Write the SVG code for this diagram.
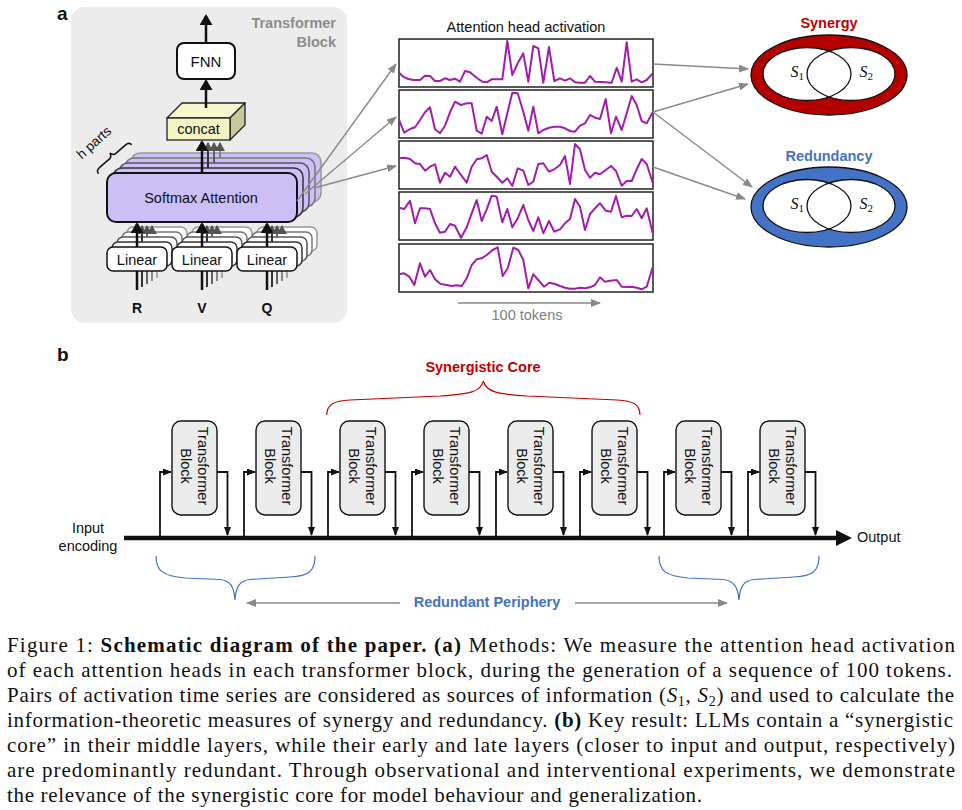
<svg xmlns="http://www.w3.org/2000/svg" width="962" height="810" viewBox="0 0 962 810">
<defs>
<style>
.sans{font-family:"Liberation Sans",Arial,sans-serif}
.serif{font-family:"Liberation Serif","Times New Roman",serif}
.lbl{font-size:14.5px;fill:#111}
.thick{stroke:#111;stroke-width:2.5;fill:none}
.gl{stroke:#8a8a8a;stroke-width:1.4;fill:none}
.plot{fill:#fff;stroke:#222;stroke-width:1.5}
.sig{fill:none;stroke:#a21caf;stroke-width:2;stroke-linejoin:round}
.tb{fill:#ececec;stroke:#111;stroke-width:1.4}
.conn{fill:none;stroke:#111;stroke-width:1.8;stroke-linejoin:miter}
.cap{font-size:21px;fill:#111}
.lin{fill:#fff;stroke-width:1.5}
.sm{fill:#cbbff6;stroke-width:1.5}
.venn{fill:none;stroke:#111;stroke-width:1.3}
</style>
<marker id="ahb" viewBox="0 0 11 13" refX="9" refY="6.5" markerWidth="11" markerHeight="13" markerUnits="userSpaceOnUse" orient="auto"><path d="M0,0 L11,6.5 L0,13 z" fill="#111"/></marker>
<marker id="ahk" viewBox="0 0 9 10" refX="8" refY="5" markerWidth="9" markerHeight="10" markerUnits="userSpaceOnUse" orient="auto"><path d="M0,0 L9,5 L0,10 z" fill="#555"/></marker>
<marker id="ahg" viewBox="0 0 10 8" refX="9" refY="4" markerWidth="10" markerHeight="8" markerUnits="userSpaceOnUse" orient="auto"><path d="M0,0 L10,4 L0,8 z" fill="#888"/></marker>
<marker id="ahs" viewBox="0 0 9 7" refX="8" refY="3.5" markerWidth="9" markerHeight="7" markerUnits="userSpaceOnUse" orient="auto"><path d="M0,0 L9,3.5 L0,7 z" fill="#111"/></marker>
</defs>
<rect width="962" height="810" fill="#fff"/>

<!-- Panel a -->
<text x="57" y="20" class="sans" font-size="19" font-weight="bold" fill="#111">a</text>

<g id="transformer-block">
<rect x="71" y="7" width="276" height="316" rx="14" fill="#ececec"/>
<text class="sans" font-size="14.5" font-weight="bold" fill="#8c8c8c" text-anchor="end"><tspan x="336" y="28">Transformer</tspan><tspan x="336" y="46.5">Block</tspan></text>

<!-- softmax stack -->
<g id="softmax-attention">
<rect class="sm" x="131" y="153" width="190" height="49" rx="9" stroke="#999"/>
<rect class="sm" x="125" y="158" width="190" height="49" rx="9" stroke="#777"/>
<rect class="sm" x="119" y="163" width="190" height="49" rx="9" stroke="#555"/>
<rect class="sm" x="113" y="168" width="190" height="49" rx="9" stroke="#333"/>
<rect x="107" y="173" width="190" height="49" rx="9" fill="#cbbff6" stroke="#111" stroke-width="2"/>
<text x="201" y="203" text-anchor="middle" class="sans lbl">Softmax Attention</text>
</g>

<!-- linear stacks -->
<g id="linear-stacks">
<g stroke="#999">
<rect class="lin" x="127" y="227" width="60" height="24" rx="6"/><line x1="157" y1="251" x2="157" y2="278" stroke-width="1.6"/>
<rect class="lin" x="192" y="227" width="60" height="24" rx="6"/><line x1="222" y1="251" x2="222" y2="278" stroke-width="1.6"/>
<rect class="lin" x="257" y="227" width="60" height="24" rx="6"/><line x1="287" y1="251" x2="287" y2="278" stroke-width="1.6"/>
</g>
<g stroke="#777">
<rect class="lin" x="122" y="232" width="60" height="24" rx="6"/><line x1="152" y1="256" x2="152" y2="281" stroke-width="1.7"/>
<rect class="lin" x="187" y="232" width="60" height="24" rx="6"/><line x1="217" y1="256" x2="217" y2="281" stroke-width="1.7"/>
<rect class="lin" x="252" y="232" width="60" height="24" rx="6"/><line x1="282" y1="256" x2="282" y2="281" stroke-width="1.7"/>
</g>
<g stroke="#555">
<rect class="lin" x="117" y="237" width="60" height="24" rx="6"/><line x1="147" y1="261" x2="147" y2="284" stroke-width="1.8"/>
<rect class="lin" x="182" y="237" width="60" height="24" rx="6"/><line x1="212" y1="261" x2="212" y2="284" stroke-width="1.8"/>
<rect class="lin" x="247" y="237" width="60" height="24" rx="6"/><line x1="277" y1="261" x2="277" y2="284" stroke-width="1.8"/>
</g>
<g stroke="#333">
<rect class="lin" x="112" y="242" width="60" height="24" rx="6"/><line x1="142" y1="266" x2="142" y2="287" stroke-width="2"/>
<rect class="lin" x="177" y="242" width="60" height="24" rx="6"/><line x1="207" y1="266" x2="207" y2="287" stroke-width="2"/>
<rect class="lin" x="242" y="242" width="60" height="24" rx="6"/><line x1="272" y1="266" x2="272" y2="287" stroke-width="2"/>
</g>
<g stroke="#111">
<line x1="137" y1="270" x2="137" y2="290" stroke-width="2.5"/>
<line x1="202" y1="270" x2="202" y2="290" stroke-width="2.5"/>
<line x1="267" y1="270" x2="267" y2="290" stroke-width="2.5"/>
<rect class="lin" x="107" y="247" width="60" height="24" rx="6" stroke-width="1.8"/>
<rect class="lin" x="172" y="247" width="60" height="24" rx="6" stroke-width="1.8"/>
<rect class="lin" x="237" y="247" width="60" height="24" rx="6" stroke-width="1.8"/>
</g>
<text x="137" y="265" text-anchor="middle" class="sans lbl">Linear</text>
<text x="202" y="265" text-anchor="middle" class="sans lbl">Linear</text>
<text x="267" y="265" text-anchor="middle" class="sans lbl">Linear</text>
<text class="sans" font-size="14" font-weight="bold" fill="#111" text-anchor="middle"><tspan x="137" y="313">R</tspan><tspan x="202" y="313">V</tspan><tspan x="267" y="313">Q</tspan></text>
</g>

<!-- internal arrows: linear -> softmax -->
<g fill="none">
<line x1="152" y1="232" x2="152" y2="226" stroke="#777" stroke-width="1.6" marker-end="url(#ahk)"/>
<line x1="147" y1="237" x2="147" y2="226" stroke="#555" stroke-width="1.8" marker-end="url(#ahk)"/>
<line x1="142" y1="242" x2="142" y2="226" stroke="#333" stroke-width="2" marker-end="url(#ahk)"/>
<line x1="217" y1="232" x2="217" y2="226" stroke="#777" stroke-width="1.6" marker-end="url(#ahk)"/>
<line x1="212" y1="237" x2="212" y2="226" stroke="#555" stroke-width="1.8" marker-end="url(#ahk)"/>
<line x1="207" y1="242" x2="207" y2="226" stroke="#333" stroke-width="2" marker-end="url(#ahk)"/>
<line x1="282" y1="232" x2="282" y2="226" stroke="#777" stroke-width="1.6" marker-end="url(#ahk)"/>
<line x1="277" y1="237" x2="277" y2="226" stroke="#555" stroke-width="1.8" marker-end="url(#ahk)"/>
<line x1="272" y1="242" x2="272" y2="226" stroke="#333" stroke-width="2" marker-end="url(#ahk)"/>
<line class="thick" x1="137" y1="247" x2="137" y2="224" marker-end="url(#ahb)"/>
<line class="thick" x1="202" y1="247" x2="202" y2="224" marker-end="url(#ahb)"/>
<line class="thick" x1="267" y1="247" x2="267" y2="224" marker-end="url(#ahb)"/>
<!-- softmax -> concat -->
<line x1="220" y1="158" x2="220" y2="143" stroke="#777" stroke-width="1.6" marker-end="url(#ahk)"/>
<line x1="214" y1="163" x2="214" y2="143" stroke="#555" stroke-width="1.8" marker-end="url(#ahk)"/>
<line x1="208" y1="168" x2="208" y2="143" stroke="#333" stroke-width="2" marker-end="url(#ahk)"/>
<line class="thick" x1="202" y1="173" x2="202" y2="142" marker-end="url(#ahb)"/>
</g>

<!-- concat -->
<g id="concat">
<polygon points="167,118 182,103 245,103 230,118" fill="#f7f7cf" stroke="#222" stroke-width="1.3" stroke-linejoin="round"/>
<polygon points="230,118 245,103 245,125 230,140" fill="#c8c89a" stroke="#222" stroke-width="1.3" stroke-linejoin="round"/>
<rect x="167" y="118" width="63" height="22" fill="#f4f4c2" stroke="#222" stroke-width="1.3"/>
<text x="198.5" y="134" text-anchor="middle" class="sans lbl">concat</text>
</g>

<!-- FNN -->
<g id="fnn">
<rect x="177" y="43" width="58" height="36" rx="7" fill="#fff" stroke="#111" stroke-width="2"/>
<text x="206" y="66.5" text-anchor="middle" class="sans" font-size="15" fill="#111">FNN</text>
</g>
<line class="thick" x1="206" y1="108" x2="206" y2="81" marker-end="url(#ahb)"/>
<line class="thick" x1="206" y1="43" x2="206" y2="16" marker-end="url(#ahb)"/>

<!-- h parts -->
<g id="h-parts">
<text transform="translate(97,146) rotate(-42)" text-anchor="middle" class="sans" font-size="13.5" fill="#111">h parts</text>
<path transform="translate(114.5,158.5) rotate(-41)" d="M-22,1 Q-22,-3 -17,-3 L-4,-3 Q-1,-3 0,-7 Q1,-3 4,-3 L17,-3 Q22,-3 22,1" fill="none" stroke="#111" stroke-width="1.5"/>
</g>
</g>

<!-- attention plots -->
<g id="attention-plots">
<text x="526" y="32" text-anchor="middle" class="sans lbl">Attention head activation</text>
<g id="plot1"><rect class="plot" x="399" y="39" width="254" height="48"/>
<polyline class="sig" points="399,72.7 403.3,76.7 408.3,79 413.3,80 420,80 425,75.7 430,76 435,81 440,81 445,78.3 450,80 455,78.7 460,81.7 465,71 470,72.3 476.7,77.7 482.3,81.7 486.7,82.3 491.7,79.3 496.7,79.3 502.3,79.3 507.3,41 512.3,75 517.7,63.3 523.3,53.3 528.3,81.7 533.3,46 538.3,48.3 543.3,82.7 549,47 554.3,81 560,78.3 565,80.7 570,78.3 575,82.3 580,82.7 585,82.7 590,76 595,81.7 601.7,82 611.7,82.7 616.7,67.7 621.7,81.7 626.7,42.3 631.7,81.7 636.7,79.3 641.7,82.3 646.7,80 652.7,73.3"/></g>
<g id="plot2"><rect class="plot" x="399" y="90" width="254" height="48"/>
<polyline class="sig" points="399,120 404.3,132.7 410,129 415,127.3 420,120 425,112.3 430,107.3 435,129.3 440,133.3 445,125.7 450,112.3 455,101.7 461,105 466.7,103.3 471.7,103.3 476.7,130.7 481.7,133.7 486.7,116.7 491.7,121 496.7,106.7 502.3,134.3 507.3,113.3 512.3,92.7 517.7,93.3 523.3,111.7 528.3,130.7 533.3,106.7 538.3,133.3 543.3,130 549,127.7 554.3,126.7 560,126.7 565,128.3 570,131 575,131.7 580,125.7 585,123.3 590,115 595,117.7 600,119 605.7,99 611,133.3 616,116.7 621.7,130 626.7,113.3 631.7,96 636.7,105 641.7,121 646.7,123.3 652.7,112.3"/></g>
<g id="plot3"><rect class="plot" x="399" y="141" width="254" height="48"/>
<polyline class="sig" points="399,158.3 404.3,157.7 410,159 415,163.3 420,164 425,170.7 430,166.7 435,164.3 440,182.7 445,172.7 450,176.7 455,166.7 461,175 466.7,182.7 471.7,166.7 476.7,159.3 481.7,158.3 486.7,155 491.7,171.7 496.7,176.7 502.3,182.7 507.3,178.3 512.3,186 517.7,168.3 523.3,170.7 528.3,185 533.3,181.7 538.3,164 543.3,163.3 549,171.7 554.3,169.3 560,165 565,156 570,184 575,144 580,149.3 585,170 590,177.7 595,172.7 600,174.3 605.7,170 611,166 616,171 621.7,185.7 626.7,181 631.7,181 636.7,169.3 641.7,159 646.7,164 652.7,182.7"/></g>
<g id="plot4"><rect class="plot" x="399" y="192" width="254" height="48"/>
<polyline class="sig" points="399,207.7 404.3,209 410,200.7 415,223.3 420,208.3 425,208.3 430,209 435,223.3 440,232.7 445,231.7 450,224 455,225.7 461,237.7 466.7,227.3 471.7,213.3 476.7,200 481.7,221 486.7,209.3 491.7,195.7 496.7,196.7 502.3,222.3 507.3,209 512.3,227.3 517.7,218.3 523.3,205 528.3,220 533.3,231 538.3,217.3 543.3,233.3 549,221 554.3,231.7 560,229.3 565,223.3 570,219 575,199 580,206.7 585,230 590,214 595,208.3 600,203.3 605.7,210.7 611,211.7 616,196 621.7,217.3 626.7,215.7 631.7,216 636.7,209 641.7,218.3 646.7,208.3 652.7,233.3"/></g>
<g id="plot5"><rect class="plot" x="399" y="244" width="254" height="48"/>
<polyline class="sig" points="399,274.3 404,273.3 409.3,276.7 414.3,285 420,263.3 425,276.7 430,270 435,279.3 440.7,284 446.7,285 451.7,286 456.7,285.3 461.7,286 466.7,278.3 471.7,265 476.7,259.3 481.7,258.3 486.7,255 492.7,250 497.7,247.3 502.7,276 507.7,268.3 513.3,247.7 518.3,250 523.3,260 528.3,288.3 533.3,274.3 538.3,280 544,286.7 549.3,282.7 555,284 560,286 565,287.7 570,288.7 575,288.7 580,287.7 585,288.3 590,287.3 595,285 600,277.3 605,281.7 610,280.7 616.7,280 621.7,286.7 626.7,287 631.7,286.7 636.7,287.7 641.7,289.3 646.7,286.7 652.7,267.3"/></g>
<line class="gl" x1="458" y1="303" x2="600" y2="303" marker-end="url(#ahg)"/>
<text x="527" y="320" text-anchor="middle" class="sans" font-size="14.5" fill="#808080">100 tokens</text>
</g>

<!-- Venn: synergy -->
<g id="synergy">
<text x="829" y="28" text-anchor="middle" class="sans" font-size="14.5" font-weight="bold" fill="#c00000">Synergy</text>
<ellipse cx="829" cy="75" rx="78" ry="40" fill="#b50000" stroke="#111" stroke-width="1.3"/>
<ellipse cx="807" cy="74" rx="44" ry="26.5" fill="#fff"/>
<ellipse cx="851" cy="74" rx="44" ry="26.5" fill="#fff"/>
<ellipse class="venn" cx="807" cy="74" rx="44" ry="26.5"/>
<ellipse class="venn" cx="851" cy="74" rx="44" ry="26.5"/>
<text x="790.5" y="77" class="serif" font-size="16" font-style="italic" fill="#111">S<tspan font-size="11" font-style="normal" dy="2.5">1</tspan></text>
<text x="859.5" y="77" class="serif" font-size="16" font-style="italic" fill="#111">S<tspan font-size="11" font-style="normal" dy="2.5">2</tspan></text>
</g>

<!-- Venn: redundancy -->
<g id="redundancy">
<text x="829" y="160.5" text-anchor="middle" class="sans" font-size="14.5" font-weight="bold" fill="#4472c4">Redundancy</text>
<ellipse cx="829" cy="207" rx="78" ry="40" fill="#4472c4" stroke="#111" stroke-width="1.3"/>
<ellipse cx="807" cy="206" rx="44" ry="26.5" fill="#fff"/>
<ellipse cx="851" cy="206" rx="44" ry="26.5" fill="#fff"/>
<ellipse class="venn" cx="807" cy="206" rx="44" ry="26.5"/>
<ellipse class="venn" cx="851" cy="206" rx="44" ry="26.5"/>
<text x="790.5" y="209" class="serif" font-size="16" font-style="italic" fill="#111">S<tspan font-size="11" font-style="normal" dy="2.5">1</tspan></text>
<text x="859.5" y="209" class="serif" font-size="16" font-style="italic" fill="#111">S<tspan font-size="11" font-style="normal" dy="2.5">2</tspan></text>
</g>

<!-- Panel b -->
<text x="57" y="361" class="sans" font-size="19" font-weight="bold" fill="#111">b</text>

<g id="blocks">
<g id="tb1"><rect class="tb" x="172" y="421" width="45" height="94" rx="9"/><text class="sans lbl" text-anchor="middle" transform="translate(197.5,466) rotate(90)">Transformer</text><text class="sans lbl" text-anchor="middle" transform="translate(180.5,466) rotate(90)">Block</text></g>
<g id="tb2"><rect class="tb" x="256" y="421" width="45" height="94" rx="9"/><text class="sans lbl" text-anchor="middle" transform="translate(281.5,466) rotate(90)">Transformer</text><text class="sans lbl" text-anchor="middle" transform="translate(264.5,466) rotate(90)">Block</text></g>
<g id="tb3"><rect class="tb" x="340" y="421" width="45" height="94" rx="9"/><text class="sans lbl" text-anchor="middle" transform="translate(365.5,466) rotate(90)">Transformer</text><text class="sans lbl" text-anchor="middle" transform="translate(348.5,466) rotate(90)">Block</text></g>
<g id="tb4"><rect class="tb" x="424" y="421" width="45" height="94" rx="9"/><text class="sans lbl" text-anchor="middle" transform="translate(449.5,466) rotate(90)">Transformer</text><text class="sans lbl" text-anchor="middle" transform="translate(432.5,466) rotate(90)">Block</text></g>
<g id="tb5"><rect class="tb" x="508" y="421" width="45" height="94" rx="9"/><text class="sans lbl" text-anchor="middle" transform="translate(533.5,466) rotate(90)">Transformer</text><text class="sans lbl" text-anchor="middle" transform="translate(516.5,466) rotate(90)">Block</text></g>
<g id="tb6"><rect class="tb" x="592" y="421" width="45" height="94" rx="9"/><text class="sans lbl" text-anchor="middle" transform="translate(617.5,466) rotate(90)">Transformer</text><text class="sans lbl" text-anchor="middle" transform="translate(600.5,466) rotate(90)">Block</text></g>
<g id="tb7"><rect class="tb" x="676" y="421" width="45" height="94" rx="9"/><text class="sans lbl" text-anchor="middle" transform="translate(701.5,466) rotate(90)">Transformer</text><text class="sans lbl" text-anchor="middle" transform="translate(684.5,466) rotate(90)">Block</text></g>
<g id="tb8"><rect class="tb" x="760" y="421" width="45" height="94" rx="9"/><text class="sans lbl" text-anchor="middle" transform="translate(785.5,466) rotate(90)">Transformer</text><text class="sans lbl" text-anchor="middle" transform="translate(768.5,466) rotate(90)">Block</text></g>
</g>

<g id="io-labels">
<text class="sans lbl" text-anchor="middle"><tspan x="88" y="532.5">Input</tspan><tspan x="88" y="551">encoding</tspan></text>
<text x="857" y="542" class="sans lbl">Output</text>
</g>

<g id="annotations">
<text x="483" y="372" text-anchor="middle" class="sans" font-size="14.5" font-weight="bold" fill="#c00000">Synergistic Core</text>
<path d="M326.7,415 C327,404 334,401 350,400 L440,396 C470,394 481,392 483.3,381 C486,392 497,394 527,396 L617,400 C633,401 640,404 640,415" fill="none" stroke="#c00000" stroke-width="1.2"/>
<path d="M156,556 C156,571 163,576 185,578 L220,579.5 C230,580.5 234,586 235,600 C236,586 240,580.5 250,579.5 L290,577 C309,576 315,571 315,556" fill="none" stroke="#4472c4" stroke-width="1.2"/>
<path d="M659,556 C659,571 666,576 688,578 L723,579.5 C733,580.5 738,586 739,600 C740,586 744,580.5 754,579.5 L794,577 C813,576 819,571 819,556" fill="none" stroke="#4472c4" stroke-width="1.2"/>
<text x="487" y="607" text-anchor="middle" class="sans" font-size="14.5" font-weight="bold" fill="#4472c4">Redundant Periphery</text>
</g>

<g id="connectors">
<!-- softmax to plots -->
<line class="gl" x1="297" y1="201" x2="396" y2="64" marker-end="url(#ahg)"/>
<line class="gl" x1="305" y1="194" x2="396" y2="117" marker-end="url(#ahg)"/>
<line class="gl" x1="314" y1="188" x2="396" y2="166" marker-end="url(#ahg)"/>
<!-- plots to venn -->
<line class="gl" x1="653" y1="64" x2="748" y2="69" marker-end="url(#ahg)"/>
<line class="gl" x1="653" y1="112" x2="748" y2="84" marker-end="url(#ahg)"/>
<line class="gl" x1="653" y1="112" x2="752" y2="187" marker-end="url(#ahg)"/>
<line class="gl" x1="653" y1="167" x2="745" y2="199" marker-end="url(#ahg)"/>
<!-- residual stream -->
<line x1="124" y1="538" x2="838" y2="538" stroke="#111" stroke-width="4.5"/>
<polygon points="836,530 852,538 836,546" fill="#111"/>
<polyline class="conn" points="160,538 160,472 171,472" marker-end="url(#ahs)"/>
<polyline class="conn" points="217,472 227.5,472 227.5,535" marker-end="url(#ahs)"/>
<polyline class="conn" points="244,538 244,472 255,472" marker-end="url(#ahs)"/>
<polyline class="conn" points="301,472 311.5,472 311.5,535" marker-end="url(#ahs)"/>
<polyline class="conn" points="328,538 328,472 339,472" marker-end="url(#ahs)"/>
<polyline class="conn" points="385,472 395.5,472 395.5,535" marker-end="url(#ahs)"/>
<polyline class="conn" points="412,538 412,472 423,472" marker-end="url(#ahs)"/>
<polyline class="conn" points="469,472 479.5,472 479.5,535" marker-end="url(#ahs)"/>
<polyline class="conn" points="496,538 496,472 507,472" marker-end="url(#ahs)"/>
<polyline class="conn" points="553,472 563.5,472 563.5,535" marker-end="url(#ahs)"/>
<polyline class="conn" points="580,538 580,472 591,472" marker-end="url(#ahs)"/>
<polyline class="conn" points="637,472 647.5,472 647.5,535" marker-end="url(#ahs)"/>
<polyline class="conn" points="664,538 664,472 675,472" marker-end="url(#ahs)"/>
<polyline class="conn" points="721,472 731.5,472 731.5,535" marker-end="url(#ahs)"/>
<polyline class="conn" points="748,538 748,472 759,472" marker-end="url(#ahs)"/>
<polyline class="conn" points="805,472 815.5,472 815.5,535" marker-end="url(#ahs)"/>
<!-- periphery arrows -->
<line class="gl" x1="400" y1="603" x2="247" y2="603" marker-end="url(#ahg)"/>
<line class="gl" x1="575" y1="603" x2="727" y2="603" marker-end="url(#ahg)"/>
</g>

<!-- caption -->
<g id="caption" class="serif cap">
<text x="7" y="652" textLength="948" lengthAdjust="spacing">Figure 1: <tspan font-weight="bold">Schematic diagram of the paper.</tspan> <tspan font-weight="bold">(a)</tspan> Methods: We measure the attention head activation</text>
<text x="7" y="677" textLength="945" lengthAdjust="spacing">of each attention heads in each transformer block, during the generation of a sequence of 100 tokens.</text>
<text x="7" y="702" textLength="947" lengthAdjust="spacing">Pairs of activation time series are considered as sources of information (<tspan font-style="italic">S</tspan><tspan font-size="14" dy="4">1</tspan><tspan dy="-4">, </tspan><tspan font-style="italic">S</tspan><tspan font-size="14" dy="4">2</tspan><tspan dy="-4">) and used to calculate the</tspan></text>
<text x="7" y="727" textLength="946" lengthAdjust="spacing">information-theoretic measures of synergy and redundancy. <tspan font-weight="bold">(b)</tspan> Key result: LLMs contain a “synergistic</text>
<text x="7" y="752" textLength="948" lengthAdjust="spacing">core” in their middle layers, while their early and late layers (closer to input and output, respectively)</text>
<text x="7" y="777" textLength="948" lengthAdjust="spacing">are predominantly redundant. Through observational and interventional experiments, we demonstrate</text>
<text x="7" y="802" textLength="695" lengthAdjust="spacing">the relevance of the synergistic core for model behaviour and generalization.</text>
</g>
</svg>
